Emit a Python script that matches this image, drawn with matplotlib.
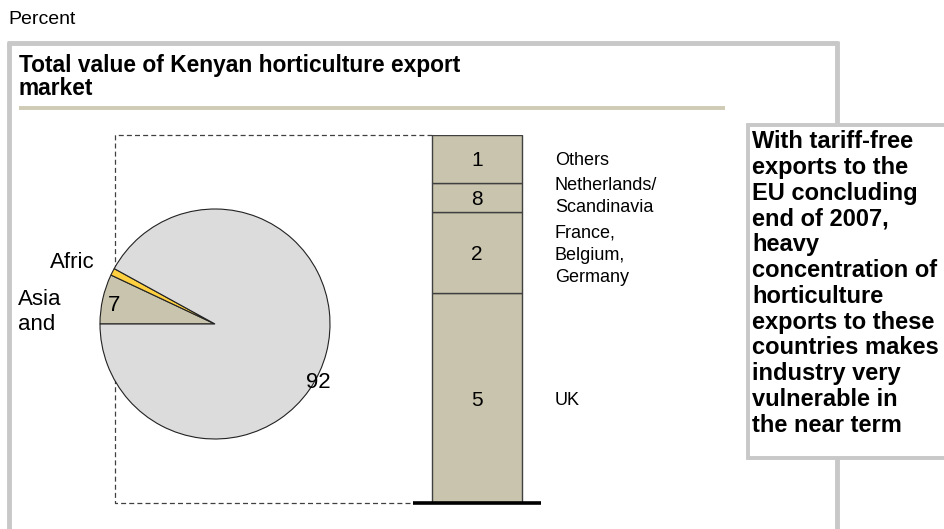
import matplotlib
matplotlib.use("Agg")
import matplotlib.pyplot as plt
from matplotlib.patches import Rectangle

plt.rcParams['font.family'] = ['Liberation Sans', 'DejaVu Sans']

# ---- data ----
pie_labels = ["Asia", "and", "Afric"]
pie_values = [7, 1, 92]
pie_value_text = ["7", "92"]
pie_colors = ["#C9C4AE", "#FFD040", "#DCDCDC"]

bar_categories = ["UK", "France,\nBelgium,\nGermany", "Netherlands/\nScandinavia", "Others"]
bar_values = [57, 22, 8, 13]
bar_value_text = ["5", "2", "8", "1"]

title_lines = ["Total value of Kenyan horticulture export", "market"]
note_lines = ["With tariff-free", "exports to the", "EU concluding", "end of 2007,", "heavy",
              "concentration of", "horticulture", "exports to these", "countries makes",
              "industry very", "vulnerable in", "the near term"]

W, H = 944, 529
fig = plt.figure(figsize=(W / 100, H / 100), dpi=100)

# background axes in pixel coordinates
bg = fig.add_axes([0, 0, 1, 1])
bg.set_xlim(0, W)
bg.set_ylim(H, 0)
bg.axis("off")

frame_c = "#C8C8C8"
bg.plot([8.5, 8.5], [42, H], color=frame_c, lw=3.5, solid_capstyle="butt")
bg.plot([7, 838], [42.5, 42.5], color=frame_c, lw=3.5, solid_capstyle="butt")
bg.plot([837, 837], [41, H], color=frame_c, lw=3.5, solid_capstyle="butt")
bg.plot([19, 725], [107.5, 107.5], color="#CFCBB5", lw=2.8, solid_capstyle="butt")

# dashed connector (behind the pie)
dash_c = "#404040"
bg.plot([432, 115, 115, 413], [135, 135, 503, 503], color=dash_c, lw=0.9, ls=(0, (4, 2.5)))

# pie
cx, cy, r = 215, 324, 115
pax = fig.add_axes([(cx - r) / W, (H - cy - r) / H, 2 * r / W, 2 * r / H])
pax.pie(pie_values, colors=pie_colors, startangle=180, counterclock=False,
        wedgeprops=dict(edgecolor="#222222", linewidth=0.8))
pax.set_xlim(-1, 1)
pax.set_ylim(-1, 1)
pax.set_aspect("equal")
pax.axis("off")

# stacked bar
x0, x1, ytop, ybot = 413, 541, 135, 503
bax = fig.add_axes([x0 / W, (H - ybot) / H, (x1 - x0) / W, (ybot - ytop) / H])
bax.set_xlim(-0.711, 0.711)
bax.set_ylim(0, sum(bar_values))
bax.axis("off")
bottom = 0
for v, t in zip(bar_values, bar_value_text):
    bax.bar(0, v, width=1, bottom=bottom, color="#C9C4AE", edgecolor="#404040", linewidth=1)
    bax.annotate(t, (0, bottom + v / 2), xytext=(0, -7.5), textcoords="offset pixels",
                 fontsize=15, ha="center", va="baseline")
    bottom += v
bax.plot([-0.711, 0.711], [0, 0], color="black", lw=2.6, clip_on=False, solid_capstyle="butt")

# foreground overlay for texts and note box
fg = fig.add_axes([0, 0, 1, 1])
fg.set_xlim(0, W)
fg.set_ylim(H, 0)
fg.axis("off")
fg.patch.set_alpha(0)

fg.text(8, 24, "Percent", fontsize=14, va="baseline", ha="left")
for i, line in enumerate(title_lines):
    fg.text(19, 72 + 23 * i, line, fontsize=16.4, fontweight="bold", va="baseline", ha="left")

fg.add_patch(Rectangle((748, 125), 260, 333, facecolor="white", edgecolor=frame_c, lw=2.8, zorder=3))
for i, line in enumerate(note_lines):
    fg.text(752, 148 + 25.8 * i, line, fontsize=17, fontweight="bold", va="baseline",
            ha="left", zorder=4)

# pie labels
fg.text(114, 311, pie_value_text[0], fontsize=16, ha="center", va="baseline")
fg.text(318, 388, pie_value_text[1], fontsize=16, ha="center", va="baseline")
fg.text(50, 268, pie_labels[2], fontsize=16, ha="left", va="baseline")
fg.text(18, 305, pie_labels[0], fontsize=16, ha="left", va="baseline")
fg.text(18, 330, pie_labels[1], fontsize=16, ha="left", va="baseline")

# category labels to the right of the bar
lab_fs = 13
cat_baselines = [[405], [238, 260, 282], [190, 212], [165]]
for cat, ys in zip(bar_categories, cat_baselines):
    for line, y in zip(cat.split("\n"), ys):
        fg.text(555, y, line, fontsize=lab_fs, ha="left", va="baseline")

fig.savefig("out.png", dpi=100)
